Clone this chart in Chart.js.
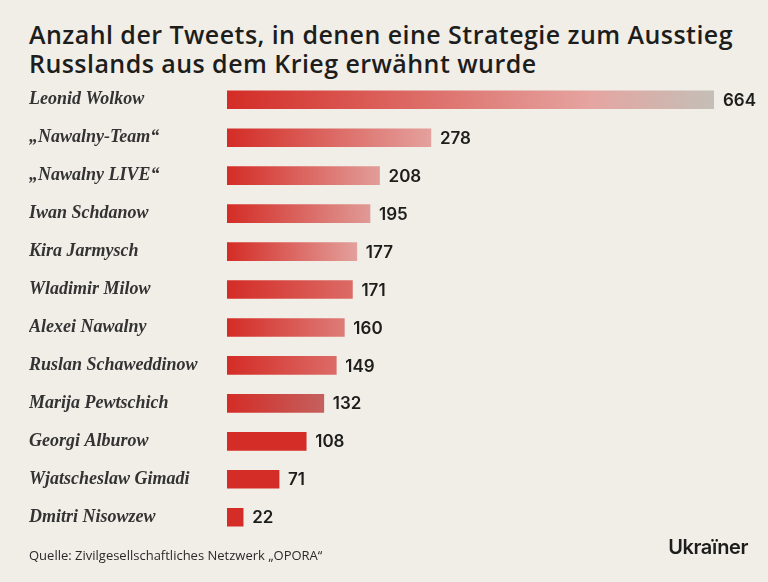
<!DOCTYPE html>
<html>
<head>
<meta charset="utf-8">
<script src="https://cdn.jsdelivr.net/npm/chart.js@4"></script>
<style>
  html, body { margin: 0; padding: 0; background: #f1eee8; width: 768px; height: 582px; overflow: hidden; }
  #title { position: absolute; left: 29px; top: 20px; margin: 0; font-family: "Open Sans", sans-serif; font-weight: 600; font-size: 25px; line-height: 29px; letter-spacing: 0.45px; color: #1d1d1b; }
  #chartBox { position: absolute; left: 0; top: 70px; width: 768px; height: 477px; }
  #source { position: absolute; left: 29px; top: 546px; font-family: "Open Sans", sans-serif; font-size: 13px; color: #2a2a2a; }
  #logo { position: absolute; right: 20px; top: 535px; font-family: "Inter", sans-serif; font-weight: 600; font-size: 20px; color: #1d1d1b; letter-spacing: -0.4px; }
</style>
</head>
<body>
<h1 id="title">Anzahl der Tweets, in denen eine Strategie zum Ausstieg<br>Russlands aus dem Krieg erwähnt wurde</h1>
<div id="chartBox"><canvas id="tweetChart"></canvas></div>
<div id="source">Quelle: Zivilgesellschaftliches Netzwerk „OPORA“</div>
<div id="logo">Ukraïner</div>
<script>
const names = ['Leonid Wolkow', '„Nawalny-Team“', '„Nawalny LIVE“', 'Iwan Schdanow', 'Kira Jarmysch', 'Wladimir Milow',
    'Alexei Nawalny', 'Ruslan Schaweddinow', 'Marija Pewtschich', 'Georgi Alburow', 'Wjatscheslaw Gimadi', 'Dmitri Nisowzew'];
const tweets = [664, 278, 208, 195, 177, 171, 160, 149, 132, 108, 71, 22];

// Farbe am rechten Ende jedes Balkens (links immer Rot)
const startColor = '#d42c26';
const endColors = ['#c4bfb7', '#e4a19d', '#e29d99', '#e09a96', '#e3a09c', '#dc6b66',
    '#de7c78', '#dc6b67', '#c4605e', '#d42c26', '#d42c26', '#d42c26'];

function barGradient(c) {
    const chart = c.chart;
    const xs = chart.scales.x;
    if (!chart.chartArea || !xs) return startColor;
    const x0 = xs.getPixelForValue(0);
    const x1 = xs.getPixelForValue(c.raw);
    if (x1 - x0 < 1) return startColor;
    const g = chart.ctx.createLinearGradient(x0, 0, x1, 0);
    g.addColorStop(0, startColor);
    if (c.dataIndex === 0) {
        g.addColorStop(0.75, '#e5a5a1');
    }
    g.addColorStop(1, endColors[c.dataIndex]);
    return g;
}

const valueLabels = {
    id: 'valueLabels',
    afterDatasetsDraw(chart) {
        const ctx = chart.ctx;
        const meta = chart.getDatasetMeta(0);
        ctx.save();
        ctx.font = '600 17px Inter, sans-serif';
        ctx.fillStyle = '#1d1d1b';
        ctx.textBaseline = 'middle';
        meta.data.forEach((bar, i) => {
            ctx.fillText(tweets[i], bar.x + 9, bar.y + 1);
        });
        ctx.restore();
    }
};

const ctx = document.getElementById('tweetChart').getContext('2d');
const myChart = new Chart(ctx, {
    type: 'bar',
    data: {
        labels: names,
        datasets: [{
            data: tweets,
            backgroundColor: barGradient,
            borderWidth: 0,
            barThickness: 18
        }]
    },
    options: {
        indexAxis: 'y',
        responsive: true, maintainAspectRatio: false,
        animation: false,
        layout: { padding: { left: 29, right: 54, top: 0, bottom: 0 } },
        scales: {
            x: { display: false, min: 0, max: 664 },
            y: {
                grid: { display: false }, border: { display: false },
                afterFit: (scale) => { scale.width = 198; },
                ticks: {
                    crossAlign: 'far', padding: 0, color: '#333333',
                    font: { family: '"Liberation Serif", serif', size: 18, weight: 'bold', style: 'italic' }
                }
            }
        },
        plugins: { legend: { display: false }, tooltip: { enabled: false } }
    },
    plugins: [valueLabels]
});
</script>
</body>
</html>
